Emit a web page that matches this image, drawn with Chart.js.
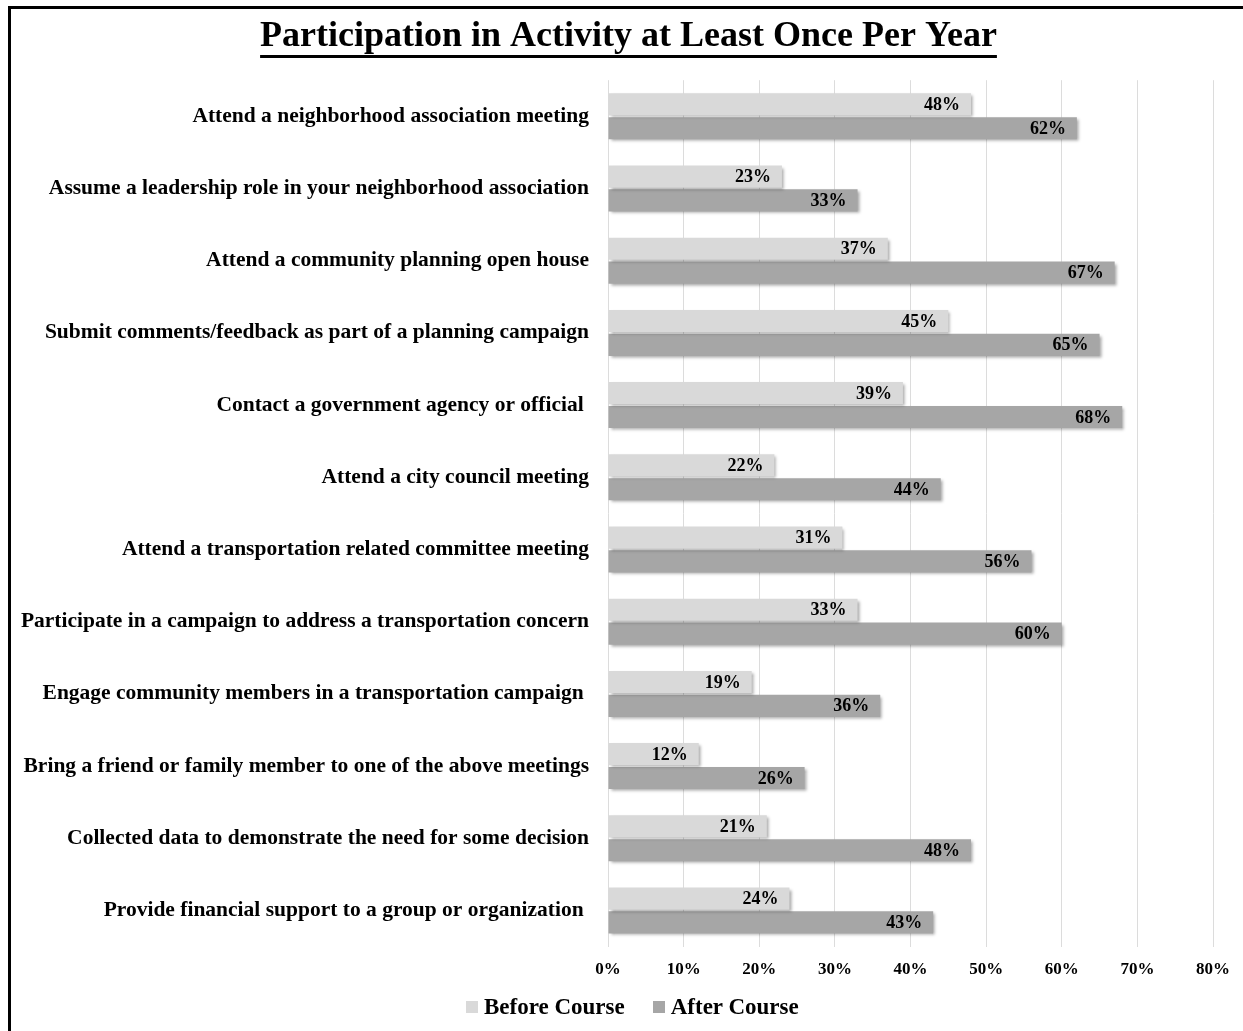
<!DOCTYPE html>
<html>
<head>
<meta charset="utf-8">
<script src="https://cdn.jsdelivr.net/npm/chart.js@4.4.1/dist/chart.umd.min.js"></script>
<style>
  html, body { margin: 0; padding: 0; background: #fff; overflow: hidden; }
  .frame {
    position: absolute; left: 8px; top: 6px;
    width: 1300px; height: 1100px;
    border: 3px solid #000;
  }
  .wrap { position: absolute; left: 0; top: 0; width: 1243px; height: 1031px; }
  .legend {
    position: absolute; left: 466px; top: 993px;
    display: flex; align-items: center; gap: 28px;
    font: bold 23px 'Liberation Serif', 'Times New Roman', serif;
    line-height: 28px; color: #000; white-space: nowrap;
  }
  .legend span { display: flex; align-items: center; }
  .legend i { display: inline-block; width: 12px; height: 12px; margin-right: 6px; }
</style>
</head>
<body>
<div class="frame"></div>
<div class="wrap"><canvas id="myChart" width="1243" height="1031"></canvas></div>
<div class="legend" id="legend"></div>
<script>
const categories = [
  "Attend a neighborhood association meeting",
  "Assume a leadership role in your neighborhood association",
  "Attend a community planning open house",
  "Submit comments/feedback as part of a planning campaign",
  "Contact a government agency or official ",
  "Attend a city council meeting",
  "Attend a transportation related committee meeting",
  "Participate in a campaign to address a transportation concern",
  "Engage community members in a transportation campaign ",
  "Bring a friend or family member to one of the above meetings",
  "Collected data to demonstrate the need for some decision",
  "Provide financial support to a group or organization ",
];
const beforeCourse = [48, 23, 37, 45, 39, 22, 31, 33, 19, 12, 21, 24];
const afterCourse = [62, 33, 67, 65, 68, 44, 56, 60, 36, 26, 48, 43];
const xTicks = [0, 10, 20, 30, 40, 50, 60, 70, 80];

const serif = "'Liberation Serif', 'Times New Roman', serif";
Chart.defaults.font.family = serif;
Chart.defaults.color = "#000";

const TITLE_SIZE = 36;

// shadow under bars, value labels at the inner end of each bar, title underline
const barExtras = {
  id: "barExtras",
  afterLayout(chart) {
    // title sits a bit right of the canvas centre in the original
    if (chart.titleBlock) chart.titleBlock.left = 44;
  },
  beforeDatasetsDraw(chart) {
    const c = chart.ctx;
    c.save();
    c.shadowColor = "rgba(0, 0, 0, 0.35)";
    c.shadowBlur = 3;
    c.shadowOffsetX = 2;
    c.shadowOffsetY = 2;
  },
  afterDatasetsDraw(chart) {
    const c = chart.ctx;
    c.restore();
    c.save();
    c.font = "bold 18px " + serif;
    c.fillStyle = "#000";
    c.textAlign = "right";
    c.textBaseline = "middle";
    chart.data.datasets.forEach((ds, i) => {
      chart.getDatasetMeta(i).data.forEach((bar, j) => {
        c.fillText(ds.data[j] + "%", bar.x - 11, bar.y + 1);
      });
    });
    c.restore();
  },
  afterDraw(chart) {
    const t = chart.titleBlock;
    if (!t) return;
    const opts = chart.options.plugins.title;
    const c = chart.ctx;
    c.save();
    c.font = "bold " + TITLE_SIZE + "px " + serif;
    const w = c.measureText(opts.text).width;
    const cx = (t.left + t.right) / 2;
    const y = t.top + opts.padding.top + (TITLE_SIZE * 1.2) / 2 + 20;
    c.strokeStyle = "#000";
    c.lineWidth = 3;
    c.beginPath();
    c.moveTo(cx - w / 2, y);
    c.lineTo(cx + w / 2, y);
    c.stroke();
    c.restore();
  },
};

const ctx = document.getElementById("myChart").getContext("2d");
const myChart = new Chart(ctx, {
  type: "bar",
  data: {
    labels: categories,
    datasets: [
      {
        label: "Before Course",
        data: beforeCourse,
        backgroundColor: "#d9d9d9",
        borderWidth: 0,
        categoryPercentage: 0.66,
        barPercentage: 0.93,
      },
      {
        label: "After Course",
        data: afterCourse,
        backgroundColor: "#a6a6a6",
        borderWidth: 0,
        categoryPercentage: 0.66,
        barPercentage: 0.93,
      },
    ],
  },
  options: {
    indexAxis: "y",
    responsive: false,
    animation: false,
    layout: { padding: { left: 0, right: 30, top: 0, bottom: 38 } },
    scales: {
      x: {
        min: 0,
        max: 80,
        afterBuildTicks: (scale) => {
          scale.ticks = xTicks.map((v) => ({ value: v }));
        },
        grid: { color: "#dcdcdc", drawTicks: false },
        border: { display: false },
        ticks: {
          padding: 13,
          font: { size: 17, weight: "bold" },
          callback: (v) => v + "%",
        },
      },
      y: {
        grid: { display: false, drawTicks: false },
        border: { display: false },
        afterFit: (scale) => {
          scale.width = 608;
        },
        ticks: {
          padding: 19,
          font: { size: 21.5, weight: "bold" },
        },
      },
    },
    plugins: {
      title: {
        display: true,
        text: "Participation in Activity at Least Once Per Year",
        font: { size: TITLE_SIZE, weight: "bold" },
        padding: { top: 15, bottom: 22 },
        color: "#000",
      },
      legend: { display: false },
      tooltip: { enabled: false },
    },
  },
  plugins: [barExtras],
});

// legend built from the chart's own datasets
const legendBox = document.getElementById("legend");
myChart.data.datasets.forEach((ds) => {
  const item = document.createElement("span");
  const swatch = document.createElement("i");
  swatch.style.background = ds.backgroundColor;
  item.appendChild(swatch);
  item.appendChild(document.createTextNode(ds.label));
  legendBox.appendChild(item);
});
</script>
</body>
</html>
